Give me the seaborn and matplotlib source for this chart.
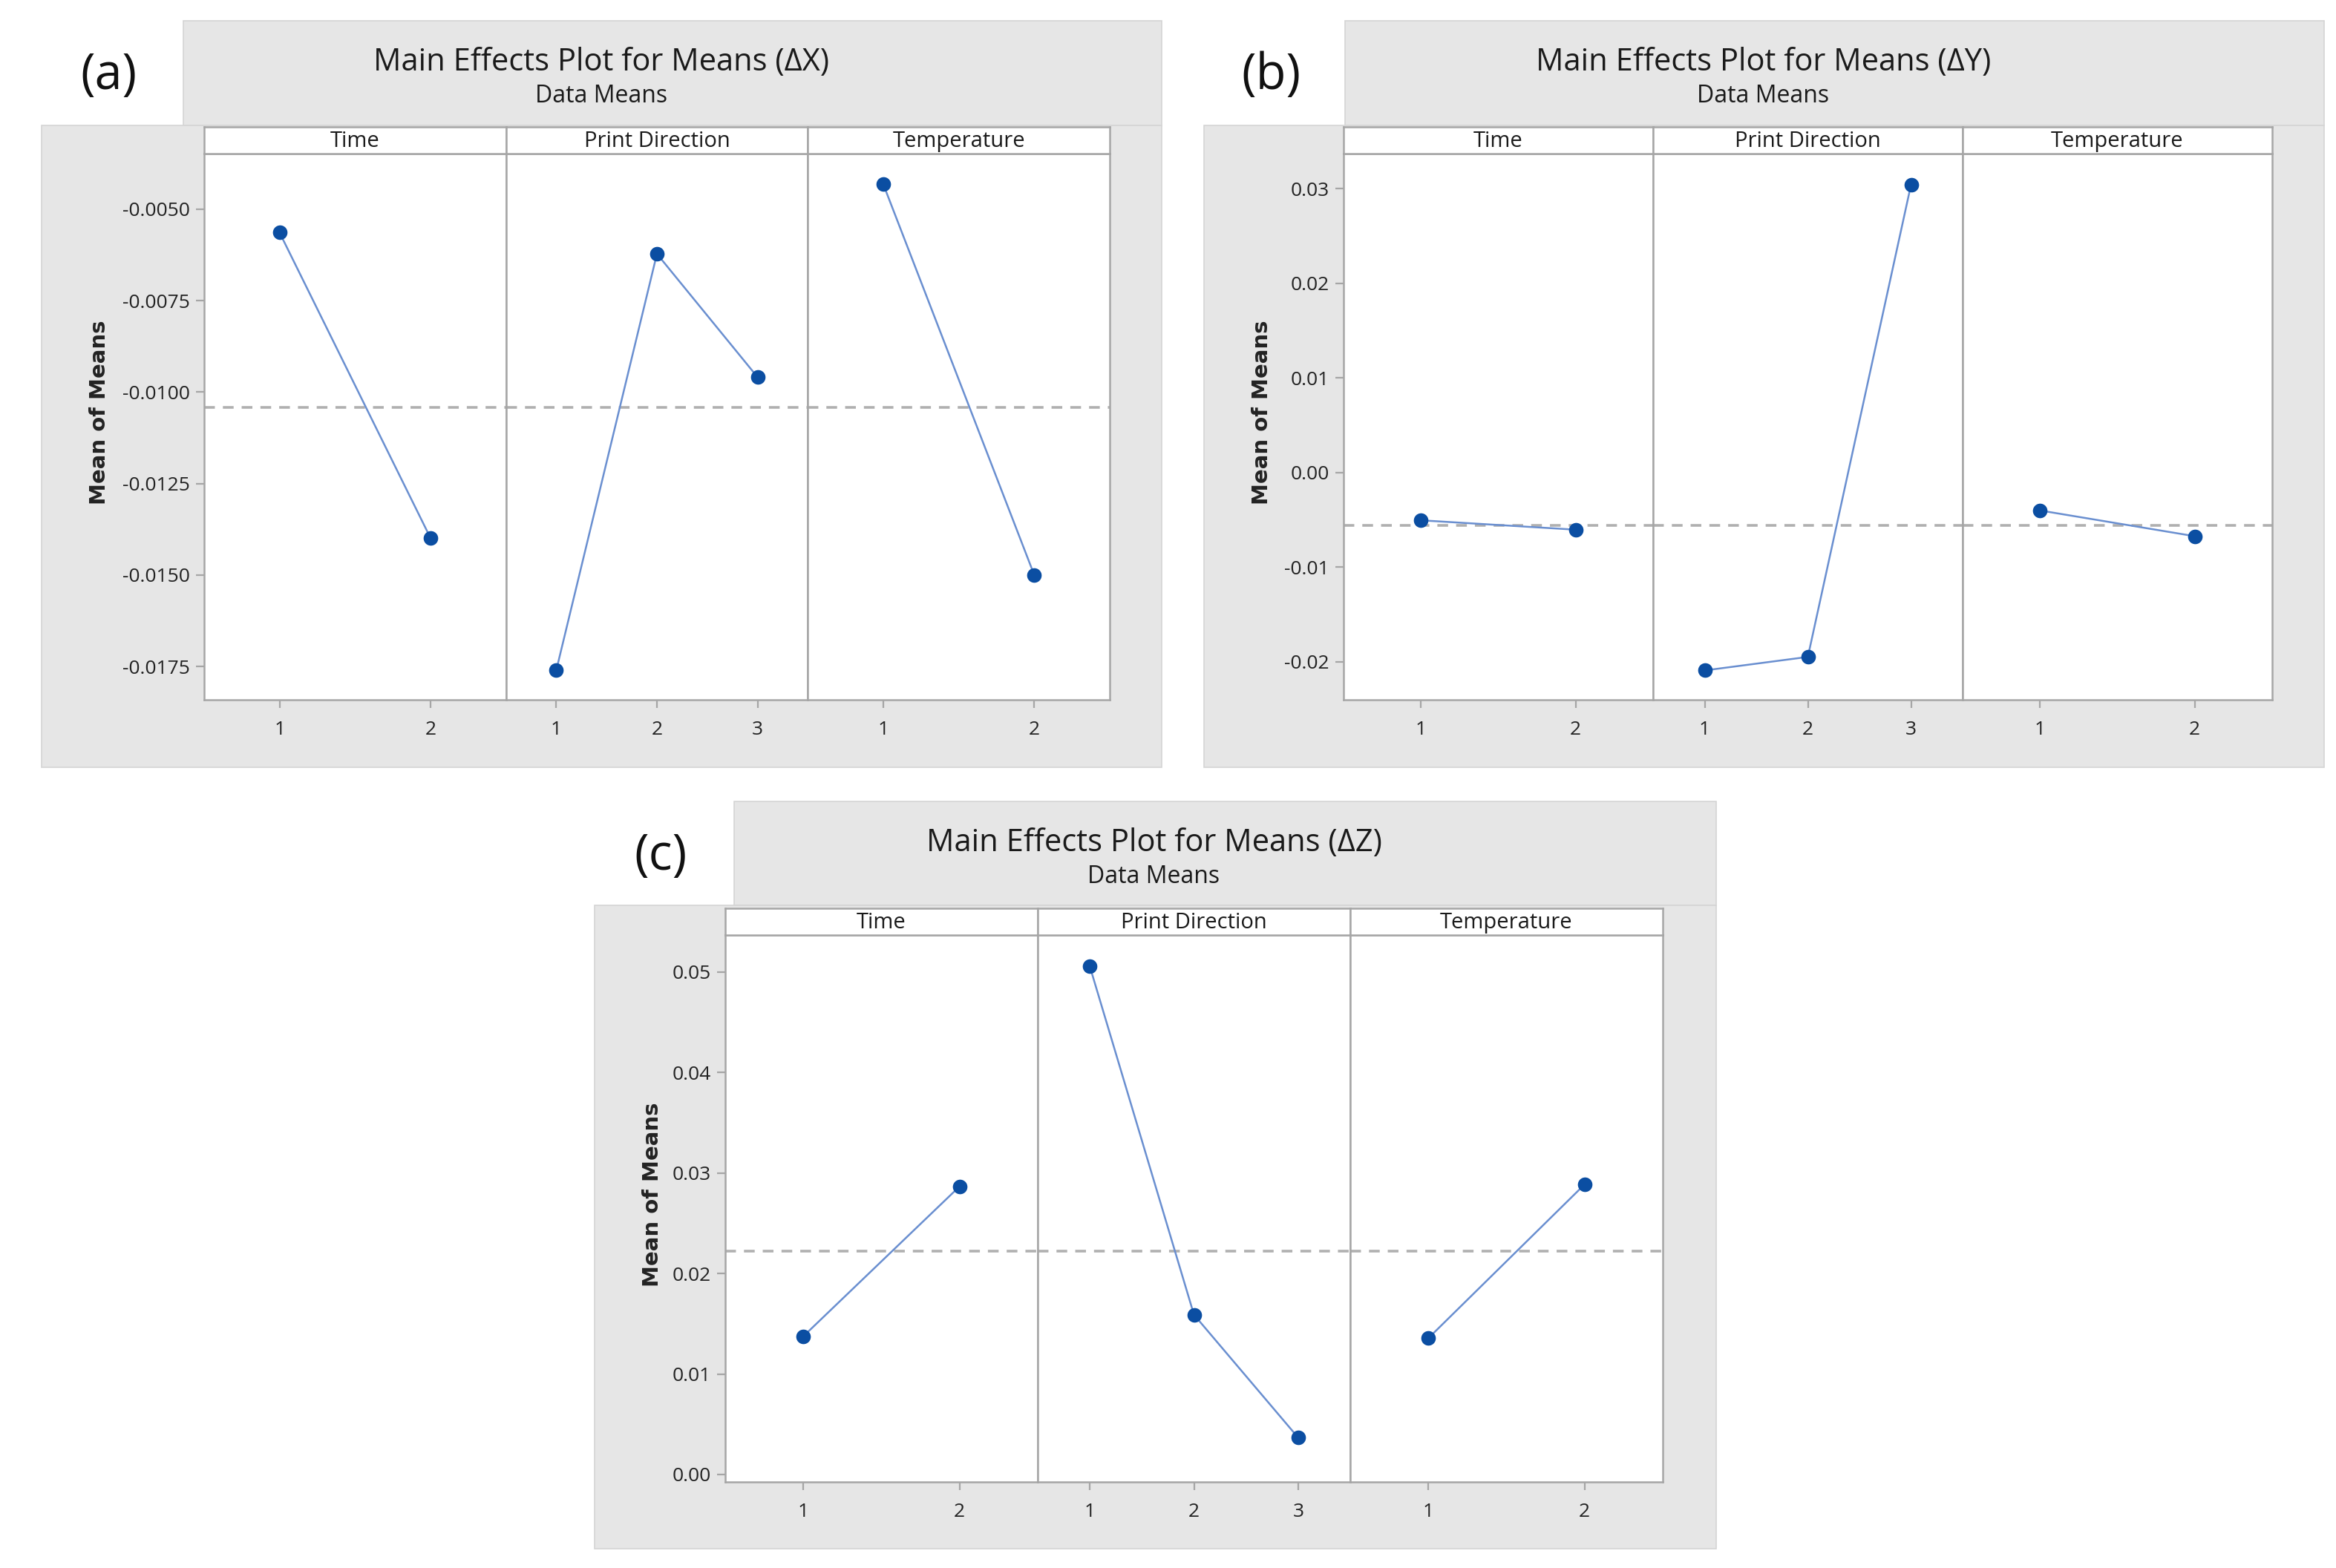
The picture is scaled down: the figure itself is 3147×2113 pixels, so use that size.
import matplotlib
matplotlib.use("Agg")
import matplotlib.pyplot as plt
from matplotlib.patches import Rectangle
from matplotlib.ticker import FormatStrFormatter
import seaborn as sns

# ---- data ----
factors = ["Time", "Print Direction", "Temperature"]
levels_time = [1, 2]
levels_pd = [1, 2, 3]
levels_temp = [1, 2]

dx_time = [-0.00564, -0.01399]
dx_pd = [-0.0176, -0.00622, -0.00959]
dx_temp = [-0.00432, -0.0150]
dx_mean = -0.01042
dx_ticks = [-0.0050, -0.0075, -0.0100, -0.0125, -0.0150, -0.0175]

dy_time = [-0.00504, -0.00603]
dy_pd = [-0.0209, -0.01947, 0.03042]
dy_temp = [-0.0040, -0.00672]
dy_mean = -0.00556
dy_ticks = [0.03, 0.02, 0.01, 0.00, -0.01, -0.02]

dz_time = [0.01375, 0.02866]
dz_pd = [0.05055, 0.01589, 0.00367]
dz_temp = [0.01356, 0.02886]
dz_mean = 0.02224
dz_ticks = [0.05, 0.04, 0.03, 0.02, 0.01, 0.00]

sns.set_theme(style="white")
plt.rcParams["font.family"] = ["Open Sans", "DejaVu Sans"]
plt.rcParams["axes.unicode_minus"] = False

W, H = 3147, 2113
fig = plt.figure(figsize=(W / 200, H / 200), dpi=200)
fig.patch.set_facecolor("white")

BG = "#e6e6e6"
EDGE = "#a6a6a6"
LINE = "#6a8fd0"
MARK = "#0b4ea2"


def fx(px):
    return px / W


def fy(py):
    return 1 - py / H


def gray_box(x0, y0, x1, y1):
    fig.add_artist(Rectangle((fx(x0), fy(y1)), fx(x1) - fx(x0), fy(y0) - fy(y1),
                             transform=fig.transFigure, facecolor=BG,
                             edgecolor="#d4d4d4", lw=0.6, zorder=0))


def draw_panel(label, title, box, plot, ylim, ticks, fmt, series, mean):
    tx0, ty0, bx0, by0, x1, by1 = box
    px0, py0, px1, py1, strip_h = plot
    # background: title part + lower part (white notch for the letter)
    gray_box(tx0, ty0, x1, by0)
    gray_box(bx0, by0, x1, by1)
    cx = (tx0 + x1) / 2 - 96
    fig.text(fx(cx), fy(ty0 + 56), title, ha="center", va="center",
             fontsize=15, color="#1a1a1a")
    fig.text(fx(cx), fy(ty0 + 101), "Data Means", ha="center",
             va="center", fontsize=11.5, color="#1a1a1a")
    fig.text(fx((bx0 + tx0) / 2 - 5), fy(ty0 + 74), label, ha="center", va="center",
             fontsize=24, color="#111111")

    fw = (px1 - px0) / 3
    for i, (name, (lv, vals)) in enumerate(zip(factors, series)):
        left = px0 + i * fw
        ax = fig.add_axes([fx(left), fy(py1), fw / W, (py1 - py0 - strip_h) / H])
        sax = fig.add_axes([fx(left), fy(py0 + strip_h), fw / W, strip_h / H])
        sax.set_xticks([])
        sax.set_yticks([])
        sax.set_facecolor("white")
        for s in sax.spines.values():
            s.set_color(EDGE)
            s.set_linewidth(0.9)
        sax.text(0.5, 0.45, name, ha="center", va="center", fontsize=10.5,
                 color="#1a1a1a", transform=sax.transAxes)

        ax.set_facecolor("white")
        ax.axhline(mean, color="#b0b0b0", ls=(0, (4, 3)), lw=1.3, zorder=1)
        sns.lineplot(x=lv, y=vals, ax=ax, color=LINE, lw=0.9, zorder=2)
        sns.scatterplot(x=lv, y=vals, ax=ax, color=MARK, s=50, edgecolor=MARK,
                        linewidth=0, zorder=3)
        ax.set_xlim(0.5, len(lv) + 0.5)
        ax.set_ylim(*ylim)
        ax.set_xticks(lv)
        ax.set_xticklabels([str(v) for v in lv])
        ax.set_xlabel("")
        ax.set_ylabel("")
        ax.tick_params(axis="x", bottom=True, length=4, width=0.8, color=EDGE,
                       labelsize=9.5, labelcolor="#222222", pad=6)
        if i == 0:
            ax.set_yticks(ticks)
            ax.yaxis.set_major_formatter(FormatStrFormatter(fmt))
            ax.tick_params(axis="y", left=True, length=4, width=0.8, color=EDGE,
                           labelsize=9.5, labelcolor="#222222", pad=3)
        else:
            ax.set_yticks([])
        for s in ax.spines.values():
            s.set_color(EDGE)
            s.set_linewidth(0.9)
            s.set_visible(True)

    fig.text(fx(bx0 + 78), fy((py0 + py1) / 2 - 1), "Mean of Means", rotation=90,
             ha="center", va="center", fontsize=10.5, fontweight="bold",
             family="DejaVu Sans", color="#222222")


draw_panel("(a)", "Main Effects Plot for Means (ΔX)",
           (247, 28, 56, 169, 1565, 1034),
           (275, 171, 1495, 943, 36),
           (-0.01841, -0.00348), dx_ticks, "%.4f",
           [(levels_time, dx_time), (levels_pd, dx_pd), (levels_temp, dx_temp)],
           dx_mean)

draw_panel("(b)", "Main Effects Plot for Means (ΔY)",
           (1812, 28, 1622, 169, 3131, 1034),
           (1810, 171, 3061, 943, 36),
           (-0.0240, 0.0337), dy_ticks, "%.2f",
           [(levels_time, dy_time), (levels_pd, dy_pd), (levels_temp, dy_temp)],
           dy_mean)

draw_panel("(c)", "Main Effects Plot for Means (ΔZ)",
           (989, 1080, 801, 1220, 2312, 2087),
           (977, 1224, 2240, 1997, 36),
           (-0.00074, 0.05367), dz_ticks, "%.2f",
           [(levels_time, dz_time), (levels_pd, dz_pd), (levels_temp, dz_temp)],
           dz_mean)

fig.savefig("out.png", dpi=200, facecolor="white")
